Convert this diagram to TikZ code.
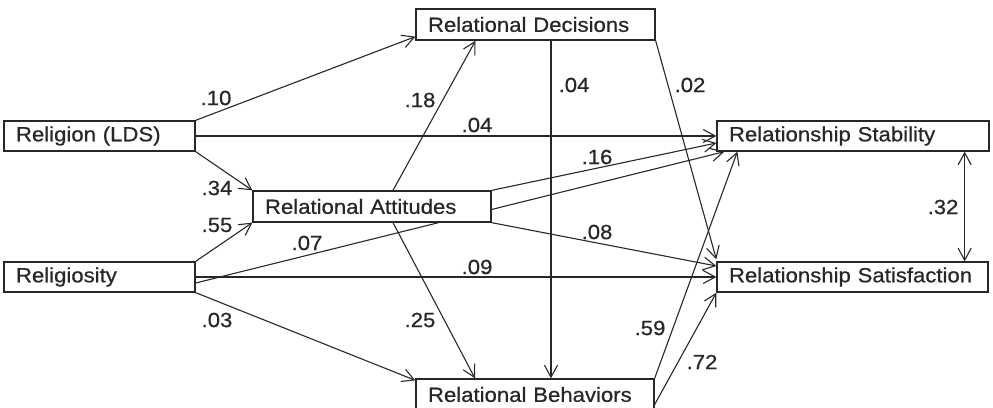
\documentclass[tikz,border=0pt]{standalone}
\usepackage{fontspec}
\setmainfont[FakeStretch=1.08,FakeBold=0.6]{Liberation Sans}
\usetikzlibrary{arrows.meta,backgrounds,calc}
\definecolor{ink}{HTML}{2B2626}
\begin{document}
\begin{tikzpicture}[x=1pt,y=-1pt,
  box/.style={draw=ink, line width=1.3pt, fill=white, text=ink, inner xsep=12pt, inner ysep=0pt,
    minimum height=30pt, align=left, font=\fontsize{20.5}{24}\selectfont},
  conn/.style={draw=ink, line width=1.1pt, -{Straight Barb[length=12pt,width=13pt,line width=1.1pt]}},
  dconn/.style={draw=ink, line width=1.1pt, {Straight Barb[length=12pt,width=13pt,line width=1.1pt]}-{Straight Barb[length=12pt,width=13pt,line width=1.1pt]}},
  lab/.style={text=ink, font=\fontsize{20.5}{24}\selectfont, inner sep=0pt}]
\useasboundingbox (0,0) rectangle (993,407);

\node[box, text width=167pt] (lds) at (99.5,136) {Religion (LDS)};
\node[box, text width=167pt] (rel) at (99.5,277) {Religiosity};
\node[box, text width=214pt, minimum height=31pt] (att) at (372,206.5) {Relational Attitudes};
\node[box, text width=215pt, minimum height=31pt] (dec) at (535.5,24.5) {Relational Decisions};
\node[box, text width=214pt, minimum height=31pt] (beh) at (535,394.5) {Relational Behaviors};
\node[box, text width=248pt] (sta) at (853,136) {Relationship Stability};
\node[box, text width=247pt] (sat) at (852.5,277) {Relationship Satisfaction};

\begin{scope}[on background layer]
\draw[conn] (lds.north east) -- ([yshift=4pt]dec.south west);
\draw[conn] (lds.east) -- (lds.east -| sta.west);
\draw[conn] (lds.south east) -- (att.north west);
\draw[conn] (rel.north east) -- (att.south west);
\draw[conn] ([yshift=-6pt]rel.east) -- ([xshift=8pt]sta.south west);
\draw[conn] (rel.east) -- (rel.east -| sat.west);
\draw[conn] (rel.south east) -- ([yshift=-2pt]beh.north west);
\draw[conn] ([xshift=21pt]att.north) -- ([xshift=-60pt]dec.south);
\draw[conn] ([xshift=21pt]att.south) -- ([xshift=-60pt]beh.north);
\draw[conn] ([xshift=15.5pt]dec.south) -- ([xshift=16pt]beh.north);
\draw[conn] (dec.south east) -- ([yshift=2pt]sat.north west);
\draw[conn] (att.north east) -- ([yshift=-7pt]sta.west);
\draw[conn] (att.south east) -- ([yshift=11pt]sat.west);
\draw[conn] (beh.north east) -- ([xshift=21pt]sta.south west);
\draw[conn] ([yshift=-10pt]beh.east) -- (sat.south west);
\draw[dconn] ([xshift=-25pt]sta.south east) -- ([xshift=-24pt]sat.north east);
\end{scope}

\node[lab] (l1) at (216,98) {.10};
\node[lab] (l2) at (477,125) {.04};
\node[lab] (l3) at (217,188) {.34};
\node[lab] (l4) at (217,225) {.55};
\node[lab] (l5) at (307,243) {.07};
\node[lab] (l6) at (477,267) {.09};
\node[lab] (l7) at (217,320) {.03};
\node[lab] (l8) at (420,100) {.18};
\node[lab] (l9) at (420,320) {.25};
\node[lab] (l10) at (574,85) {.04};
\node[lab] (l11) at (690,85) {.02};
\node[lab] (l12) at (597,157) {.16};
\node[lab] (l13) at (597,232) {.08};
\node[lab] (l14) at (650,328) {.59};
\node[lab] (l15) at (702,362) {.72};
\node[lab] (l16) at (943,207) {.32};
\end{tikzpicture}
\end{document}
